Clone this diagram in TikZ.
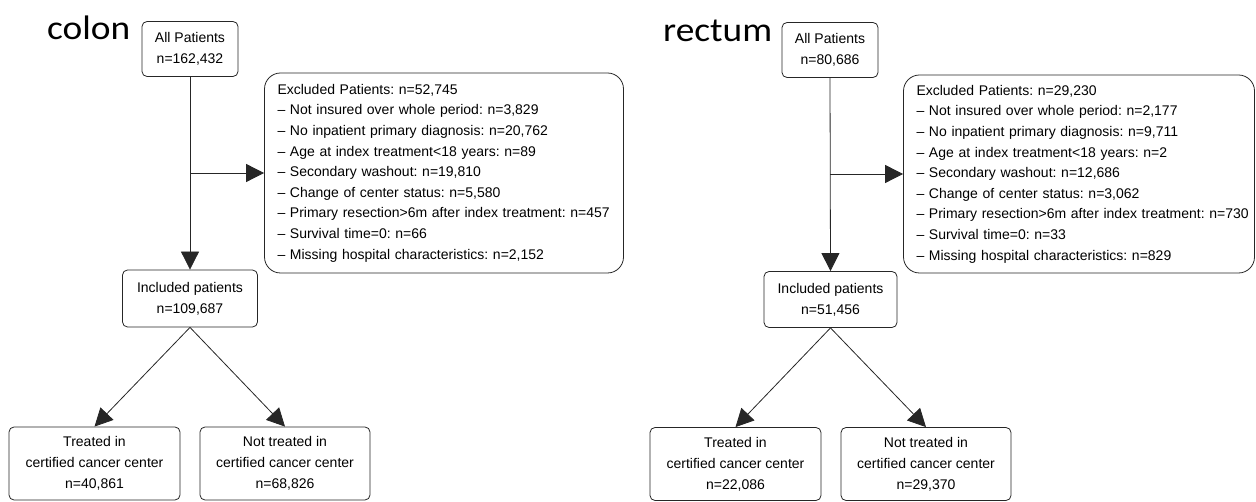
\documentclass[tikz,border=0pt]{standalone}
\usepackage{fontspec}
\setmainfont{Liberation Sans}
\newfontfamily\titlefont{Carlito}
\usetikzlibrary{arrows.meta}
\frenchspacing
\newcommand{\ind}{\hspace*{13pt}}
\tikzset{
  box/.style={draw=black!85, line width=0.8pt, rounded corners=5pt, align=center, inner sep=0pt,
    font=\fontsize{14}{21}\selectfont},
  exbox/.style={draw=black!85, line width=0.8pt, rounded corners=16pt, align=left, inner xsep=0pt, inner ysep=0pt,
    font=\fontsize{14}{20.6}\selectfont},
  flow/.style={draw=black!85, line width=0.8pt, -{Triangle[length=18pt,width=18pt]}},
  ttl/.style={font=\titlefont\fontsize{34}{40}\selectfont, inner sep=0pt, anchor=base west}
}
\begin{document}
\begin{tikzpicture}[x=1pt,y=-1pt]
\useasboundingbox (0,0) rectangle (1256,502);
% ---------- colon ----------
\node[ttl] (tC) at (47,40) {\scalebox{1.1}[1]{colon}};
\node[box, minimum width=96pt, minimum height=55pt] (allC) at (190,49) {All Patients\\n=162,432};
\node[exbox, text width=359pt, minimum height=200pt] (exC) at (444,173) {\ind Excluded Patients: n=52,745\\
\ind – Not insured over whole period: n=3,829\\
\ind – No inpatient primary diagnosis: n=20,762\\
\ind – Age at index treatment<18 years: n=89\\
\ind – Secondary washout: n=19,810\\
\ind – Change of center status: n=5,580\\
\ind – Primary resection>6m after index treatment: n=457\\
\ind – Survival time=0: n=66\\
\ind – Missing hospital characteristics: n=2,152};
\node[box, minimum width=135pt, minimum height=57pt] (inC) at (190,298.5) {Included patients\\n=109,687};
\node[box, minimum width=171pt, minimum height=73pt] (trC) at (94.5,463.5) {Treated in\\certified cancer center\\n=40,861};
\node[box, minimum width=170pt, minimum height=73pt] (ntC) at (285,463.5) {Not treated in\\certified cancer center\\n=68,826};
\coordinate (bC) at (190,173);
\draw[flow] (allC.south) -- (inC.north);
\draw[flow] (bC) -- (exC.west);
\draw[flow] (inC.south) -- (trC.north);
\draw[flow] (inC.south) -- (ntC.north);
% ---------- rectum ----------
\node[ttl] (tR) at (663,42) {\scalebox{1.1}[1]{rectum}};
\node[box, minimum width=96pt, minimum height=55pt] (allR) at (830,50) {All Patients\\n=80,686};
\node[exbox, text width=351pt, minimum height=198pt] (exR) at (1079,174) {\ind Excluded Patients: n=29,230\\
\ind – Not insured over whole period: n=2,177\\
\ind – No inpatient primary diagnosis: n=9,711\\
\ind – Age at index treatment<18 years: n=2\\
\ind – Secondary washout: n=12,686\\
\ind – Change of center status: n=3,062\\
\ind – Primary resection>6m after index treatment: n=730\\
\ind – Survival time=0: n=33\\
\ind – Missing hospital characteristics: n=829};
\node[box, minimum width=133pt, minimum height=56pt] (inR) at (830.5,299.5) {Included patients\\n=51,456};
\node[box, minimum width=171pt, minimum height=73pt] (trR) at (735.5,464) {Treated in\\certified cancer center\\n=22,086};
\node[box, minimum width=170pt, minimum height=73pt] (ntR) at (926,464) {Not treated in\\certified cancer center\\n=29,370};
\coordinate (bR) at (830,174);
\draw[flow] (allR.south) -- (inR.north);
\draw[flow] (bR) -- (exR.west);
\draw[flow] (inR.south) -- (trR.north);
\draw[flow] (inR.south) -- (ntR.north);
\end{tikzpicture}
\end{document}
